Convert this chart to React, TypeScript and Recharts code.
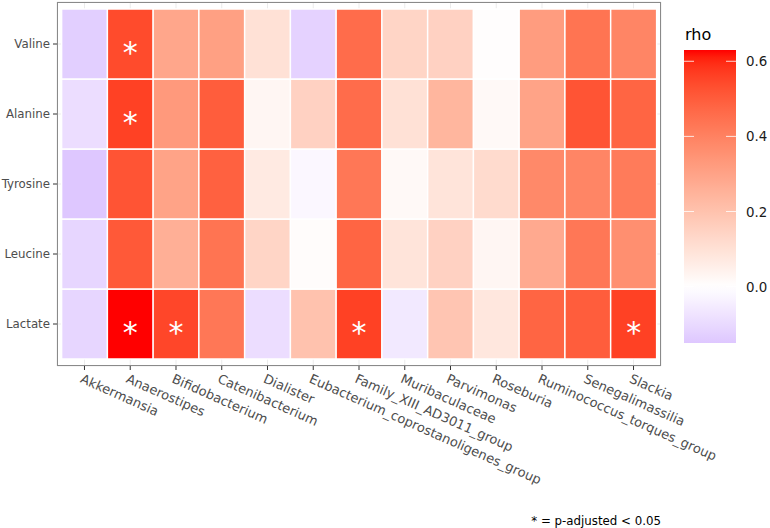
import { BarChart, Bar, XAxis, YAxis, CartesianGrid, Cell, LabelList } from 'recharts';

const taxa = [
  'Akkermansia', 'Anaerostipes', 'Bifidobacterium', 'Catenibacterium', 'Dialister',
  'Eubacterium_coprostanoligenes_group', 'Family_XIII_AD3011_group', 'Muribaculaceae',
  'Parvimonas', 'Roseburia', 'Ruminococcus_torques_group', 'Senegalimassilia', 'Slackia',
];

// bottom row first, so the stack builds upwards
const metabolites = ['Lactate', 'Leucine', 'Tyrosine', 'Alanine', 'Valine'];

const valineRho = [-0.13, 0.54, 0.29, 0.31, 0.10, -0.12, 0.46, 0.14, 0.15, 0.005, 0.32, 0.44, 0.39];
const alanineRho = [-0.09, 0.56, 0.33, 0.50, 0.03, 0.15, 0.46, 0.10, 0.24, 0.02, 0.30, 0.52, 0.48];
const tyrosineRho = [-0.15, 0.52, 0.30, 0.49, 0.07, -0.02, 0.43, 0.02, 0.09, 0.12, 0.38, 0.39, 0.42];
const leucineRho = [-0.11, 0.51, 0.26, 0.44, 0.14, 0.01, 0.48, 0.09, 0.15, 0.03, 0.28, 0.43, 0.36];
const lactateRho = [-0.11, 0.63, 0.55, 0.43, -0.09, 0.20, 0.56, -0.06, 0.19, 0.08, 0.48, 0.50, 0.56];

const rhoByRow: Record<string, number[]> = {
  Lactate: lactateRho, Leucine: leucineRho, Tyrosine: tyrosineRho, Alanine: alanineRho, Valine: valineRho,
};

// p-adjusted < 0.05
const significant: Record<string, string[]> = {
  Valine: ['Anaerostipes'],
  Alanine: ['Anaerostipes'],
  Tyrosine: [],
  Leucine: [],
  Lactate: ['Anaerostipes', 'Bifidobacterium', 'Family_XIII_AD3011_group', 'Slackia'],
};

const legendTicks = [0.0, 0.2, 0.4, 0.6];

// ---- colour scale (low = blue, mid = white, high = red, interpolated in Lab like ggplot) ----
const toLin = (c: number) => (c <= 0.04045 ? c / 12.92 : Math.pow((c + 0.055) / 1.055, 2.4));
const toSrgb = (c: number) => (c <= 0.0031308 ? 12.92 * c : 1.055 * Math.pow(c, 1 / 2.4) - 0.055);

const hexToLab = (hex: string) => {
  const r = toLin(parseInt(hex.slice(1, 3), 16) / 255);
  const g = toLin(parseInt(hex.slice(3, 5), 16) / 255);
  const b = toLin(parseInt(hex.slice(5, 7), 16) / 255);
  const X = (0.4124 * r + 0.3576 * g + 0.1805 * b) / 0.95047;
  const Y = 0.2126 * r + 0.7152 * g + 0.0722 * b;
  const Z = (0.0193 * r + 0.1192 * g + 0.9505 * b) / 1.08883;
  const f = (t: number) => (t > 0.008856 ? Math.cbrt(t) : 7.787 * t + 16 / 116);
  return [116 * f(Y) - 16, 500 * (f(X) - f(Y)), 200 * (f(Y) - f(Z))];
};

const labToHex = ([L, a, bb]: number[]) => {
  const fy = (L + 16) / 116;
  const fx = fy + a / 500;
  const fz = fy - bb / 200;
  const inv = (t: number) => (t * t * t > 0.008856 ? t * t * t : (t - 16 / 116) / 7.787);
  const X = 0.95047 * inv(fx);
  const Y = inv(fy);
  const Z = 1.08883 * inv(fz);
  const rgb = [
    3.2406 * X - 1.5372 * Y - 0.4986 * Z,
    -0.9689 * X + 1.8758 * Y + 0.0415 * Z,
    0.0557 * X - 0.204 * Y + 1.057 * Z,
  ];
  return '#' + rgb
    .map((c) => Math.round(Math.min(1, Math.max(0, toSrgb(c))) * 255).toString(16).padStart(2, '0'))
    .join('');
};

const LOW = hexToLab('#0000FF');
const MID = hexToLab('#FFFFFF');
const HIGH = hexToLab('#FF0000');

const allRho = [...valineRho, ...alanineRho, ...tyrosineRho, ...leucineRho, ...lactateRho];
const rhoMin = Math.min(...allRho);
const rhoMax = Math.max(...allRho);
const absMax = Math.max(Math.abs(rhoMin), Math.abs(rhoMax));

const fillFor = (v: number) => {
  const t = Math.min(1, Math.abs(v) / absMax);
  const end = v >= 0 ? HIGH : LOW;
  return labToHex(MID.map((m, i) => m + (end[i] - m) * t));
};

const tableRows = taxa.map((taxon) => {
  const row: Record<string, string | number> = { taxon };
  metabolites.forEach((m) => (row[m] = 1));
  return row;
});

const FONT = '"DejaVu Sans", sans-serif';

const XTick = (props: any) => {
  const { x, y, payload } = props;
  return (
    <g transform={`translate(${x - 1},${y + 1}) rotate(24)`}>
      <text x={0} y={0} dy="0.76em" textAnchor="start" fill="#4D4D4D" fontSize={13} fontFamily={FONT}>
        {payload.value}
      </text>
    </g>
  );
};

const starLabel = (row: string) => (props: any) => {
  const { x, y, width, height, index } = props;
  if (!significant[row].includes(taxa[index])) return null;
  return (
    <text x={x + width / 2} y={y + height / 2 + 19} textAnchor="middle" fill="#FFFFFF" fontSize={30} fontFamily={FONT}>
      *
    </text>
  );
};

const Legend = () => {
  const barTop = 50;
  const barH = 293;
  const barX = 684;
  const barW = 52;
  const yFor = (v: number) => barTop + ((rhoMax - v) / (rhoMax - rhoMin)) * barH;
  const stops = Array.from({ length: 41 }, (_, i) => i / 40);
  return (
    <svg width={770} height={528} style={{ position: 'absolute', left: 0, top: 0, pointerEvents: 'none' }}>
      <defs>
        <linearGradient id="rhoGrad" x1="0" y1="0" x2="0" y2="1">
          {stops.map((s) => (
            <stop key={s} offset={s} stopColor={fillFor(rhoMax - s * (rhoMax - rhoMin))} />
          ))}
        </linearGradient>
      </defs>
      <text x={685} y={40} fontSize={16} fill="#000" fontFamily={FONT}>rho</text>
      <rect x={barX} y={barTop} width={barW} height={barH} fill="url(#rhoGrad)" />
      {legendTicks.map((t) => (
        <g key={t}>
          <line x1={barX} x2={barX + 10} y1={yFor(t)} y2={yFor(t)} stroke="#FFFFFF" strokeOpacity={0.8} />
          <line x1={barX + barW - 10} x2={barX + barW} y1={yFor(t)} y2={yFor(t)} stroke="#FFFFFF" strokeOpacity={0.8} />
          <text x={746} y={yFor(t) + 5} fontSize={13.4} fill="#1A1A1A" fontFamily={FONT}>{t.toFixed(1)}</text>
        </g>
      ))}
      <text x={661} y={525} textAnchor="end" fontSize={11.8} fill="#000" fontFamily={FONT}>* = p-adjusted &lt; 0.05</text>
    </svg>
  );
};

export default function App() {
  return (
    <div style={{ position: 'absolute', left: 0, top: 0, width: 770, height: 528, background: '#fff', fontFamily: FONT }}>
      <BarChart width={770} height={528} data={tableRows} margin={{ top: 2, right: 109, bottom: 0, left: 7 }} barCategoryGap={0} barGap={0}>
        <CartesianGrid stroke="#EBEBEB" strokeWidth={1} />
        <XAxis
          dataKey="taxon"
          interval={0}
          padding={{ left: 4.6, right: 4.6 }}
          height={162}
          axisLine={false}
          tickSize={4}
          tickLine={{ stroke: '#333333' }}
          tick={(p: any) => <XTick {...p} />}
        />
        <YAxis
          type="number"
          domain={[-0.1, 5.1]}
          ticks={[0.5, 1.5, 2.5, 3.5, 4.5]}
          tickFormatter={(v: number) => metabolites[Math.floor(v)]}
          allowDataOverflow
          width={50}
          axisLine={false}
          tickSize={4}
          tickMargin={3}
          tickLine={{ stroke: '#333333' }}
          tick={{ fill: '#4D4D4D', fontSize: 11.8, fontFamily: FONT }}
        />
        {metabolites.map((m) => (
          <Bar key={m} dataKey={m} stackId="heat" stroke="#FFFFFF" strokeWidth={1.5} isAnimationActive={false}>
            {taxa.map((t, i) => (
              <Cell key={t} fill={fillFor(rhoByRow[m][i])} />
            ))}
            <LabelList dataKey={m} content={starLabel(m)} />
          </Bar>
        ))}
      </BarChart>
      <div
        style={{
          position: 'absolute', left: 57, top: 2, width: 604, height: 364,
          border: '1px solid #8A8A8A', boxSizing: 'border-box', pointerEvents: 'none',
        }}
      />
      <Legend />
    </div>
  );
}
